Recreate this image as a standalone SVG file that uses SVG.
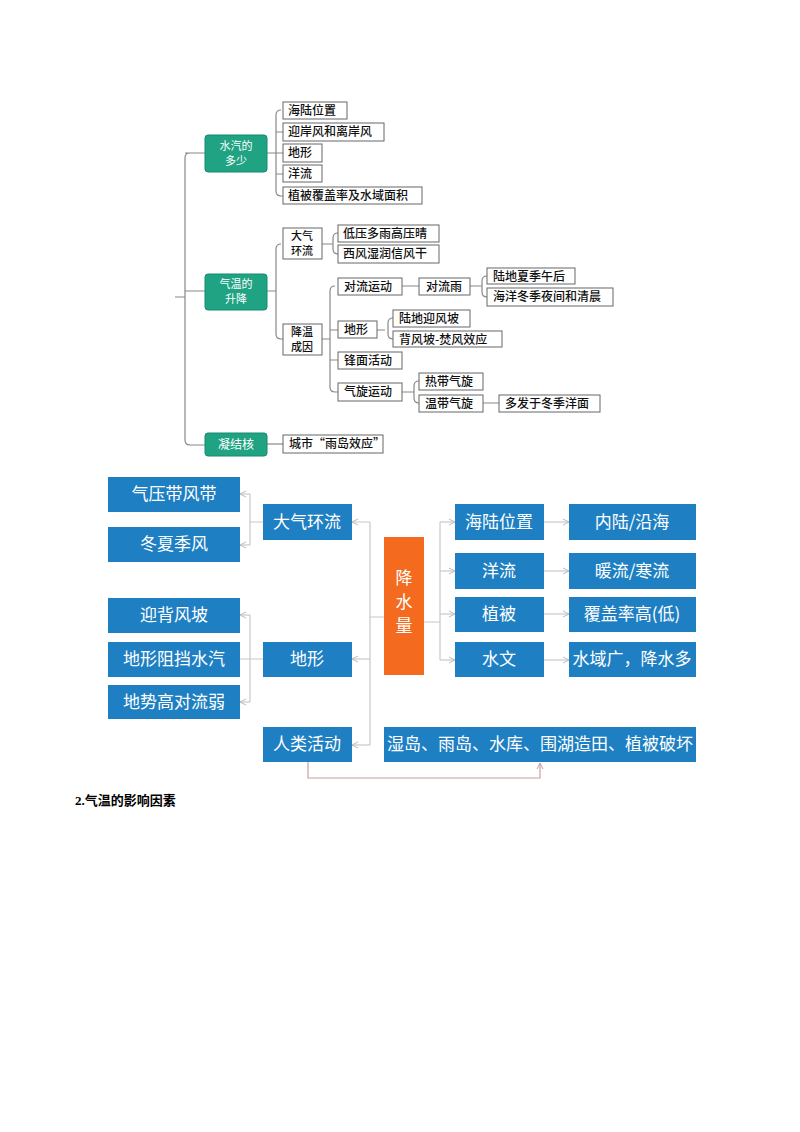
<svg xmlns="http://www.w3.org/2000/svg" width="800" height="1132" viewBox="0 0 800 1132">
<defs>
<style>
.g{fill:#1fa383;stroke:#178a6e;stroke-width:1}
.w{fill:#fff;stroke:#666;stroke-width:1}
.gt{font-family:"Noto Sans CJK SC",sans-serif;font-size:12px;fill:#fff;text-anchor:middle}
.t{font-family:"Noto Sans CJK SC",sans-serif;font-size:12px;fill:#111;font-weight:500}
.t2{font-size:11px}
.c{fill:none;stroke:#888;stroke-width:1.2}
.b{fill:#1e7fc3}
.bt{font-family:"Noto Sans CJK SC",sans-serif;font-size:17px;fill:#fff;text-anchor:middle}
.l{fill:none;stroke:#c8c8c8;stroke-width:1.2}
.r{fill:none;stroke:#c9a0a0;stroke-width:1.2}
</style>
<marker id="a" markerWidth="8" markerHeight="8" refX="7" refY="4" orient="auto" markerUnits="userSpaceOnUse"><path d="M1,1 L7,4 L1,7" fill="none" stroke="#bbb" stroke-width="1"/></marker>
<marker id="ar" markerWidth="8" markerHeight="8" refX="7" refY="4" orient="auto" markerUnits="userSpaceOnUse"><path d="M1,1 L7,4 L1,7" fill="none" stroke="#c9a0a0" stroke-width="1"/></marker>
</defs>
<rect width="800" height="1132" fill="#fff"/>
<g id="connectors">
<path class="c" d="M175,297 H185 M190,153 Q185,153 185,158 V440 Q185,445 190,445 H205 M185,291 H205 M185,153 H205"/>
<path class="c" d="M267,153 H283 M281,110 Q276,110 276,115 V191 Q276,196 281,196 H283 M276,132 H283 M276,174 H283"/>
<path class="c" d="M267,291 H276 M281,244 Q276,244 276,249 V334 Q276,339 281,339 H283"/>
<path class="c" d="M322,244 H328 M338,233 Q333,233 333,238 V249 Q333,254 338,254 M328,244 H333"/>
<path class="c" d="M322,339 H330 M335,286 Q330,286 330,291 V387 Q330,392 335,392 H338 M330,330 H338 M330,360 H338"/>
<path class="c" d="M402,286 H419 M470,286 H480 M487,276 Q482,276 482,281 V292 Q482,297 487,297 M480,286 H482"/>
<path class="c" d="M377,330 H385 M393,318 Q388,318 388,323 V334 Q388,339 393,339"/>
<path class="c" d="M402,392 H410 M419,381 Q414,381 414,386 V398 Q414,403 419,403 M410,392 H414 M483,403 H499"/>
<path class="c" d="M267,444 H283"/>
<path class="l" d="M384,617 H370 M370,522 V745 M370,522 H352" marker-end="url(#a)"/>
<path class="l" d="M370,659 H352" marker-end="url(#a)"/>
<path class="l" d="M370,745 H352" marker-end="url(#a)"/>
<path class="l" d="M263,522 H250 M250,494 V545" />
<path class="l" d="M250,494 H240" marker-end="url(#a)"/>
<path class="l" d="M250,545 H240" marker-end="url(#a)"/>
<path class="l" d="M263,659 H240 M250,615 V702"/>
<path class="l" d="M250,615 H240" marker-end="url(#a)"/>
<path class="l" d="M250,702 H240" marker-end="url(#a)"/>
<path class="l" d="M424,622 H440 M440,522 V660"/>
<path class="l" d="M440,522 H455" marker-end="url(#a)"/>
<path class="l" d="M440,571 H455" marker-end="url(#a)"/>
<path class="l" d="M440,614 H455" marker-end="url(#a)"/>
<path class="l" d="M440,660 H455" marker-end="url(#a)"/>
<path class="l" d="M544,522 H569" marker-end="url(#a)"/>
<path class="l" d="M544,571 H569" marker-end="url(#a)"/>
<path class="l" d="M544,614 H569" marker-end="url(#a)"/>
<path class="l" d="M544,660 H569" marker-end="url(#a)"/>
<path class="r" d="M308,762 V778 H540 V763" marker-end="url(#ar)"/>
</g>
<g id="n1"><rect class="g" x="205" y="135" width="62" height="37" rx="3"/><text class="gt t2" x="236" y="150">水汽的</text><text class="gt t2" x="236" y="165">多少</text></g>
<g id="n2"><rect class="g" x="205" y="274" width="62" height="36" rx="3"/><text class="gt t2" x="236" y="288">气温的</text><text class="gt t2" x="236" y="303">升降</text></g>
<g id="n3"><rect class="g" x="205" y="433" width="62" height="23" rx="3"/><text class="gt" x="236" y="449">凝结核</text></g>
<g id="t1"><rect class="w" x="283" y="102" width="64" height="17"/><text class="t" x="288" y="115">海陆位置</text></g>
<g id="t2"><rect class="w" x="283" y="123" width="101" height="18"/><text class="t" x="288" y="136">迎岸风和离岸风</text></g>
<g id="t3"><rect class="w" x="283" y="144" width="39" height="18"/><text class="t" x="288" y="157">地形</text></g>
<g id="t4"><rect class="w" x="283" y="165" width="39" height="17"/><text class="t" x="288" y="178">洋流</text></g>
<g id="t5"><rect class="w" x="283" y="187" width="139" height="17"/><text class="t" x="288" y="200">植被覆盖率及水域面积</text></g>
<g id="t6"><rect class="w" x="283" y="228" width="39" height="31"/><text class="t t2" x="291" y="240">大气</text><text class="t t2" x="291" y="255">环流</text></g>
<g id="t7"><rect class="w" x="338" y="225" width="101" height="17"/><text class="t" x="343" y="238">低压多雨高压晴</text></g>
<g id="t8"><rect class="w" x="338" y="245" width="101" height="18"/><text class="t" x="343" y="258">西风湿润信风干</text></g>
<g id="t9"><rect class="w" x="283" y="324" width="39" height="31"/><text class="t t2" x="291" y="336">降温</text><text class="t t2" x="291" y="351">成因</text></g>
<g id="t10"><rect class="w" x="338" y="278" width="64" height="17"/><text class="t" x="344" y="291">对流运动</text></g>
<g id="t11"><rect class="w" x="419" y="278" width="51" height="17"/><text class="t" x="426" y="291">对流雨</text></g>
<g id="t12"><rect class="w" x="487" y="268" width="88" height="16"/><text class="t" x="493" y="281">陆地夏季午后</text></g>
<g id="t13"><rect class="w" x="487" y="288" width="126" height="18"/><text class="t" x="493" y="301">海洋冬季夜间和清晨</text></g>
<g id="t14"><rect class="w" x="338" y="321" width="39" height="17"/><text class="t" x="344" y="334">地形</text></g>
<g id="t15"><rect class="w" x="393" y="310" width="77" height="17"/><text class="t" x="399" y="323">陆地迎风坡</text></g>
<g id="t16"><rect class="w" x="393" y="331" width="109" height="16"/><text class="t" x="399" y="344">背风坡-焚风效应</text></g>
<g id="t17"><rect class="w" x="338" y="352" width="64" height="17"/><text class="t" x="344" y="365">锋面活动</text></g>
<g id="t18"><rect class="w" x="338" y="383" width="64" height="18"/><text class="t" x="344" y="396">气旋运动</text></g>
<g id="t19"><rect class="w" x="419" y="373" width="64" height="17"/><text class="t" x="425" y="386">热带气旋</text></g>
<g id="t20"><rect class="w" x="419" y="395" width="64" height="17"/><text class="t" x="425" y="408">温带气旋</text></g>
<g id="t21"><rect class="w" x="499" y="395" width="101" height="17"/><text class="t" x="505" y="408">多发于冬季洋面</text></g>
<g id="t22"><rect class="w" x="283" y="435" width="100" height="18"/><text class="t" x="289" y="448">城市“雨岛效应”</text></g>
<g id="b1"><rect class="b" x="108" y="477" width="132" height="35"/><text class="bt" x="174" y="500">气压带风带</text></g>
<g id="b2"><rect class="b" x="108" y="527" width="132" height="35"/><text class="bt" x="174" y="550">冬夏季风</text></g>
<g id="b3"><rect class="b" x="263" y="504" width="89" height="36"/><text class="bt" x="307" y="528">大气环流</text></g>
<g id="b4"><rect class="b" x="108" y="598" width="132" height="35"/><text class="bt" x="174" y="621">迎背风坡</text></g>
<g id="b5"><rect class="b" x="108" y="642" width="132" height="35"/><text class="bt" x="174" y="665">地形阻挡水汽</text></g>
<g id="b6"><rect class="b" x="108" y="685" width="132" height="34"/><text class="bt" x="174" y="708">地势高对流弱</text></g>
<g id="b7"><rect class="b" x="263" y="642" width="89" height="35"/><text class="bt" x="307" y="665">地形</text></g>
<g id="b8"><rect class="b" x="263" y="727" width="89" height="35"/><text class="bt" x="307" y="750">人类活动</text></g>
<g id="b9"><rect x="384" y="537" width="40" height="138" fill="#f46b1f"/><text class="bt" x="404" y="584">降</text><text class="bt" x="404" y="608">水</text><text class="bt" x="404" y="632">量</text></g>
<g id="b10"><rect class="b" x="455" y="504" width="89" height="36"/><text class="bt" x="499" y="528">海陆位置</text></g>
<g id="b11"><rect class="b" x="455" y="553" width="89" height="36"/><text class="bt" x="499" y="577">洋流</text></g>
<g id="b12"><rect class="b" x="455" y="597" width="89" height="35"/><text class="bt" x="499" y="620">植被</text></g>
<g id="b13"><rect class="b" x="455" y="642" width="89" height="35"/><text class="bt" x="499" y="665">水文</text></g>
<g id="b14"><rect class="b" x="569" y="504" width="127" height="36"/><text class="bt" x="632" y="528">内陆/沿海</text></g>
<g id="b15"><rect class="b" x="569" y="553" width="127" height="36"/><text class="bt" x="632" y="577">暖流/寒流</text></g>
<g id="b16"><rect class="b" x="569" y="597" width="127" height="35"/><text class="bt" x="632" y="620">覆盖率高(低)</text></g>
<g id="b17"><rect class="b" x="569" y="642" width="127" height="35"/><text class="bt" x="632" y="665">水域广，降水多</text></g>
<g id="b18"><rect class="b" x="384" y="727" width="312" height="35"/><text class="bt" x="540" y="750">湿岛、雨岛、水库、围湖造田、植被破坏</text></g>
<text x="75" y="805" font-family="'Liberation Serif','Noto Sans CJK SC',serif" font-size="13" font-weight="bold" fill="#000">2.气温的影响因素</text>
</svg>
